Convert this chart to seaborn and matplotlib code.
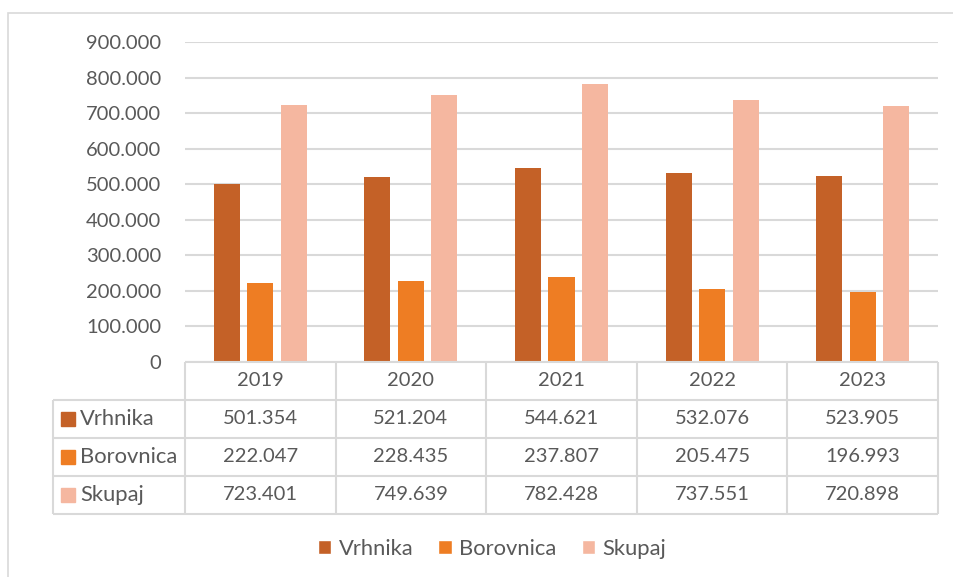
import pandas as pd
import seaborn as sns
import matplotlib.pyplot as plt
from matplotlib.patches import Patch, Rectangle

years = ['2019', '2020', '2021', '2022', '2023']
series = ['Vrhnika', 'Borovnica', 'Skupaj']
vrhnika = [501354, 521204, 544621, 532076, 523905]
borovnica = [222047, 228435, 237807, 205475, 196993]
skupaj = [723401, 749639, 782428, 737551, 720898]
colors = ['#C46127', '#EE7D23', '#F5B7A0']

TEXT = '#595959'
LINE = '#D9D9D9'
FS = 14.5
FS_NAME = 15.8


def fmt(v):
    return f'{v:,.0f}'.replace(',', '.')


rows = []
for name, vals in zip(series, [vrhnika, borovnica, skupaj]):
    for y, v in zip(years, vals):
        rows.append({'Year': y, 'Series': name, 'Value': v})
df = pd.DataFrame(rows)

sns.set_style('white')
plt.rcParams['font.family'] = ['Lato', 'DejaVu Sans']

W, H = 954, 577
fig = plt.figure(figsize=(W / 100, H / 100), dpi=100)

# outer chart frame
fig.add_artist(Rectangle((8 / W, -0.1), 1.2, 1 - 13 / H + 0.1, transform=fig.transFigure,
                         fill=False, edgecolor=LINE, linewidth=1.2))

left, right, top, bottom = 185, 938, 42, 362
ax = fig.add_axes([left / W, 1 - bottom / H, (right - left) / W, (bottom - top) / H])
sns.barplot(data=df, x='Year', y='Value', hue='Series', palette=colors, saturation=1,
            width=0.667, gap=0.22, linewidth=0, legend=False, ax=ax)
ax.set_xlim(-0.5, 4.5)
ax.set_ylim(0, 900000)
ax.set_yticks(range(0, 900001, 100000))
ax.set_yticklabels([fmt(v) for v in range(0, 900001, 100000)], color=TEXT, fontsize=FS)
ax.tick_params(axis='y', length=0, pad=17)
ax.set_xticks([])
ax.set_xlabel('')
ax.set_ylabel('')
ax.grid(axis='y', color=LINE, linewidth=1.5)
ax.set_axisbelow(True)
for s in ax.spines.values():
    s.set_visible(False)

# data table under the plot
tl, tb = 53, 514
lw = (left - tl) / ((right - left) / 5)
tax = fig.add_axes([tl / W, 1 - tb / H, (right - tl) / W, (tb - bottom) / H])
tax.set_xlim(-0.5 - lw, 4.5)
tax.set_ylim(4, 0)
tax.axis('off')
kw = dict(color=LINE, linewidth=1.5, clip_on=False)
tax.hlines(0, -0.5, 4.5, **kw)
tax.hlines([1, 2, 3, 4], -0.5 - lw, 4.5, **kw)
tax.vlines([-0.5 + i for i in range(6)], 0, 4, **kw)
tax.vlines(-0.5 - lw, 1, 4, **kw)
for i, y in enumerate(years):
    tax.text(i, 0.5, y, ha='center', va='center', color=TEXT, fontsize=FS)
for r, (name, vals, c) in enumerate(zip(series, [vrhnika, borovnica, skupaj], colors)):
    tax.plot(-0.5 - lw + 15 / 150.6, r + 1.5, marker='s', markersize=9.5, color=c,
             linestyle='none', clip_on=False)
    tax.text(-0.5 - lw + 27 / 150.6, r + 1.5, name, ha='left', va='center',
             color=TEXT, fontsize=FS_NAME)
    for i, v in enumerate(vals):
        tax.text(i, r + 1.5, fmt(v), ha='center', va='center', color=TEXT, fontsize=FS)

handles = [Patch(facecolor=c, label=n) for n, c in zip(series, colors)]
fig.legend(handles=handles, loc='center', bbox_to_anchor=(492 / W, 1 - 549 / H), ncol=3,
           frameon=False, fontsize=FS_NAME, labelcolor=TEXT, handlelength=0.6,
           handleheight=0.6, handletextpad=0.35, columnspacing=1.15)

fig.savefig('out.png', dpi=100)
